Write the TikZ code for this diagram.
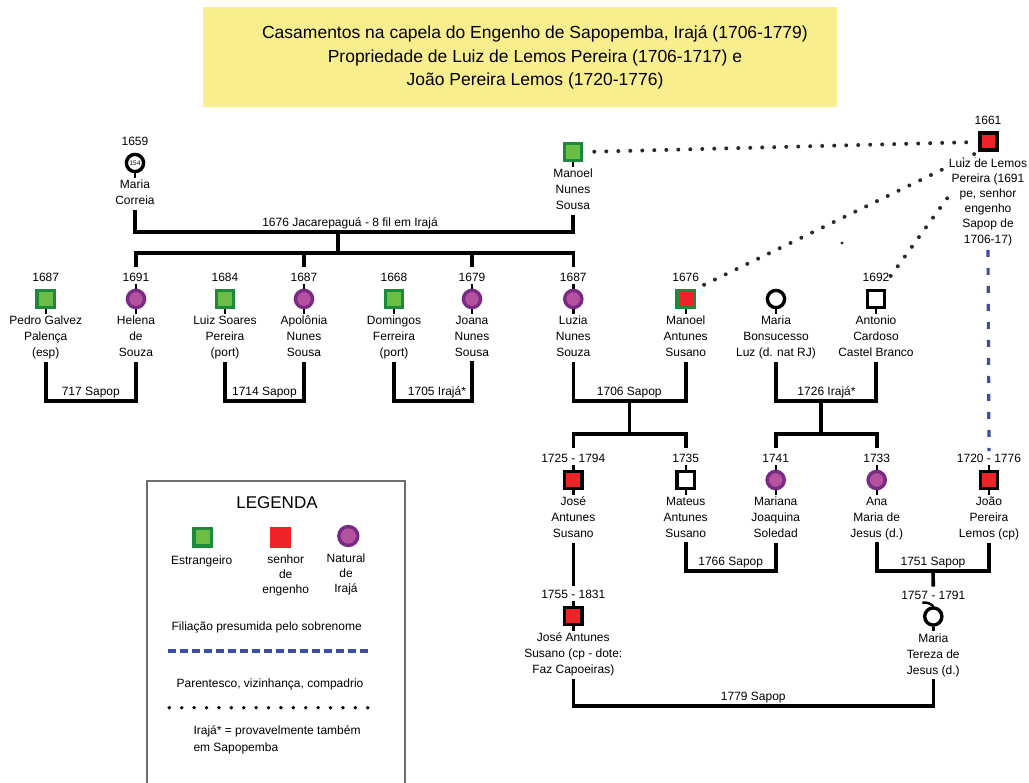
\documentclass[tikz,border=0pt]{standalone}
\usepackage{fontspec}
\setmainfont{Liberation Sans}
\usetikzlibrary{backgrounds}

\definecolor{estrF}{HTML}{6BBD45}
\definecolor{estrB}{HTML}{1B8A3B}
\definecolor{senF}{HTML}{EE2328}
\definecolor{purF}{HTML}{B5529F}
\definecolor{purB}{HTML}{782A85}
\definecolor{titleY}{HTML}{F9EE8D}
\definecolor{filB}{HTML}{3D4DA6}
\definecolor{dotG}{HTML}{2A2A2A}
\definecolor{frameG}{HTML}{6F6F6F}

\newcommand\txtA{\fontsize{12}{16}\selectfont}

% person: symbol node #1 at #2 with style #3, inner text #4, name lines #5
\newcommand\famnode[5]{%
  \node[#3] (#1) at (#2) {#4};
  \node[nm] (#1-n) at ([yshift=-16.8pt]#1.center) {#5\rule[-5pt]{0pt}{5pt}};
}
% year (or life span) printed above a symbol
\newcommand\famyear[2]{%
  \node[yr] (#1-y) at ([yshift=17.3pt]#1.center) {#2};
}

\begin{document}
\begin{tikzpicture}[x=1pt,y=-1pt,
  sym/.style={draw, line width=3.4pt, inner sep=0pt, minimum size=17.2pt},
  sq/.style={sym, rectangle},
  ci/.style={sym, circle},
  estr/.style={sq, draw=estrB, fill=estrF},
  senhor/.style={sq, draw=black, fill=senF},
  estrsen/.style={sq, draw=estrB, fill=senF},
  irj/.style={ci, draw=purB, fill=purF},
  homem/.style={sq, draw=black, fill=white},
  mulher/.style={ci, draw=black, fill=white},
  yr/.style={font=\txtA, anchor=base, inner sep=0pt},
  nm/.style={font=\txtA, align=center, anchor=north, inner sep=0pt},
  lbl/.style={font=\txtA, anchor=base, inner sep=0pt},
  bond/.style={line width=3.6pt, line cap=butt, line join=miter},
  stub/.style={line width=2.4pt},
  relation/.style={dotG, line width=4pt, line cap=round, dash pattern=on 0pt off 12pt},
  filiacao/.style={filB, line width=3.2pt, dash pattern=on 7pt off 11pt},
]
\useasboundingbox (0,0) rectangle (1029,783);
\clip (0,0) rectangle (1029,783);

% ---------- title ----------
\node[fill=titleY, minimum width=634pt, minimum height=100pt, inner sep=0pt,
      anchor=north west] (titlebox) at (203,7) {};
\node[font=\fontsize{17.5}{23.5}\selectfont, align=center, anchor=north, inner sep=0pt]
  (title) at (535,25.5)
  {Casamentos na capela do Engenho de Sapopemba, Irajá (1706-1779)\\
   Propriedade de Luiz de Lemos Pereira (1706-1717) e\\
   João Pereira Lemos (1720-1776)};

% ---------- first generation ----------
\famnode{mc}{135,163}{mulher, font=\fontsize{6.5}{7}\selectfont}{154}{Maria\\Correia}
\famyear{mc}{1659}
\famnode{mn}{573,152}{estr}{}{Manoel\\Nunes\\Sousa}
\node[senhor, line width=4pt, minimum size=17pt] (luiz) at (988,142) {};
\famyear{luiz}{1661}
\node[nm, font=\fontsize{12}{15.2}\selectfont, fill=white] (luiz-n) at (988,158.3)
  {Luiz de Lemos\\Pereira (1691\\pe, senhor\\engenho\\Sapop de\\1706-17)};

% ---------- second generation ----------
\famnode{pedro}{45.7,299}{estr}{}{Pedro Galvez\\Palença\\(esp)}
\famyear{pedro}{1687}
\famnode{helena}{136,299}{irj}{}{Helena\\de\\Souza}
\famyear{helena}{1691}
\famnode{luizs}{225,299}{estr}{}{Luiz Soares\\Pereira\\(port)}
\famyear{luizs}{1684}
\famnode{apol}{304,299}{irj}{}{Apolônia\\Nunes\\Sousa}
\famyear{apol}{1687}
\famnode{dom}{394,299}{estr}{}{Domingos\\Ferreira\\(port)}
\famyear{dom}{1668}
\famnode{joana}{472,299}{irj}{}{Joana\\Nunes\\Sousa}
\famyear{joana}{1679}
\famnode{luzia}{573.3,299}{irj}{}{Luzia\\Nunes\\Souza}
\famyear{luzia}{1687}
\famnode{mant}{685.7,299}{estrsen}{}{Manoel\\Antunes\\Susano}
\famyear{mant}{1676}
\famnode{mbon}{776,299}{mulher}{}{Maria\\Bonsucesso\\Luz (d. nat RJ)}
\famnode{anton}{876,299}{homem}{}{Antonio\\Cardoso\\Castel Branco}
\famyear{anton}{1692}

% ---------- third generation ----------
\famnode{jose}{573.3,480}{senhor}{}{José\\Antunes\\Susano}
\famyear{jose}{1725 - 1794}
\famnode{mateus}{685.7,480}{homem}{}{Mateus\\Antunes\\Susano}
\famyear{mateus}{1735}
\famnode{mariana}{775.7,480}{irj}{}{Mariana\\Joaquina\\Soledad}
\famyear{mariana}{1741}
\famnode{ana}{876.7,480}{irj}{}{Ana\\Maria de\\Jesus (d.)}
\famyear{ana}{1733}
\famnode{joao}{989,480}{senhor}{}{João\\Pereira\\Lemos (cp)}
\famyear{joao}{1720 - 1776}

% ---------- fourth generation ----------
\famnode{jose2}{573.3,616}{senhor}{}{José Antunes\\Susano (cp - dote:\\Faz Capoeiras)}
\famyear{jose2}{1755 - 1831}
\famnode{mtereza}{933.3,616.5}{mulher}{}{Maria\\Tereza de\\Jesus (d.)}
\famyear{mtereza}{1757 - 1791}

% small stubs on the symbols
\foreach \p in {mc,mn,pedro,helena,luizs,apol,dom,joana,luzia,mant,mbon,anton,
                jose,mateus,mariana,ana,joao,jose2,mtereza}
  \draw[stub] (\p.south) -- ++(0,4.5);
\foreach \p in {helena,apol,joana,luzia,jose,mateus,mariana,ana,joao,jose2}
  \draw[stub] (\p.north) -- ++(0,-4.5);
\draw[stub] ([xshift=-11pt,yshift=3.5pt]mtereza.north) to[bend left=25] (mtereza.north);

% ---------- marriages and descent ----------
\coordinate (j1676) at (337.7,232);
\coordinate (k1676) at (337.7,253.3);
\draw[bond] (mc-n.south) |- (j1676) -| (mn-n.south);
\node[lbl] (l1676) at (350,226.5) {1676 Jacarepaguá - 8 fil em Irajá};
\draw[bond] (j1676) -- (k1676);
\draw[bond] ([yshift=6pt]helena-y.north) |- (k1676) -| ([yshift=6pt]luzia-y.north);
\draw[bond] ([yshift=6pt]apol-y.north) -- (apol-y.north |- k1676);
\draw[bond] ([yshift=6pt]joana-y.north) -- (joana-y.north |- k1676);

\coordinate (c717) at (90.8,401);
\draw[bond] (pedro-n.south) |- (c717) -| (helena-n.south);
\node[lbl] (l717) at ([yshift=5.5pt]c717) {717 Sapop};

\coordinate (c1714) at (264.5,401);
\draw[bond] (luizs-n.south) |- (c1714) -| (apol-n.south);
\node[lbl] (l1714) at ([yshift=5.5pt]c1714) {1714 Sapop};

\coordinate (c1705) at (434,401);
\draw[bond] (dom-n.south) |- (c1705) -| (joana-n.south);
\node[lbl] (l1705) at ([xshift=3pt,yshift=5.5pt]c1705) {1705 Irajá*};

\coordinate (j1706) at (629.3,401);
\coordinate (k1706) at (629.3,434);
\draw[bond] (luzia-n.south) |- (j1706) -| (mant-n.south);
\node[lbl] (l1706) at ([yshift=5.5pt]j1706) {1706 Sapop};
\draw[bond] (j1706) -- (k1706);
\draw[bond] ([yshift=6pt]jose-y.north) |- (k1706) -| ([yshift=6pt]mateus-y.north);

\coordinate (j1726) at (820.7,401);
\coordinate (k1726) at (820.7,434);
\draw[bond] (mbon-n.south) |- (j1726) -| (anton-n.south);
\node[lbl] (l1726) at (826.5,395.5) {1726 Irajá*};
\draw[bond] (j1726) -- (k1726);
\draw[bond] ([yshift=6pt]mariana-y.north) |- (k1726) -| ([yshift=6pt]ana-y.north);

\coordinate (c1766) at (730.7,571);
\draw[bond] (mateus-n.south) |- (c1766) -| (mariana-n.south);
\node[lbl] (l1766) at ([yshift=5.5pt]c1766) {1766 Sapop};

\coordinate (j1751) at (933,571);
\draw[bond] (ana-n.south) |- (j1751) -| (joao-n.south);
\node[lbl] (l1751) at ([yshift=5.5pt]j1751) {1751 Sapop};
\draw[bond] (j1751) -- ([yshift=4pt]mtereza-y.north);

\draw[bond] (jose-n.south) -- ([yshift=4pt]jose2-y.north);

\coordinate (c1779) at (753.3,706);
\draw[bond] (jose2-n.south) |- (c1779) -| (mtereza-n.south);
\node[lbl] (l1779) at ([yshift=6pt]c1779) {1779 Sapop};

% ---------- kinship, neighbourhood and presumed filiation ----------
\begin{scope}[on background layer]
  \draw[relation, shorten <=11pt, shorten >=2pt] (mn.east) -- (luiz.west);
  \draw[relation, shorten <=9pt, shorten >=3pt] (mant.north east) -- (luiz.south west);
  \draw[relation, shorten <=2pt] (anton-y.east) -- (luiz);
  \draw[filiacao] ([yshift=-4pt]luiz-n.south) -- ([yshift=3pt]joao-y.north);
\end{scope}
\fill[dotG] (842,243) circle[radius=1.6pt];

% ---------- legend ----------
\draw[frameG, line width=2pt] (405,800) -- (405,481) -- (147,481) -- (147,800);
\node[lbl, font=\fontsize{17}{20}\selectfont] (lg-head) at (277,509) {LEGENDA};
\node[estr] (lg-estr) at (202.7,537.3) {};
\node[fill=senF, minimum size=21pt, inner sep=0pt] (lg-sen) at (280.5,537.3) {};
\node[irj, minimum size=19pt] (lg-nat) at (348.3,536) {};
\node[lbl] (lg-estr-t) at (201.7,564.3) {Estrangeiro};
\node[nm, font=\fontsize{12}{15}\selectfont] (lg-sen-t) at (285.7,554.6) {senhor\\de\\engenho};
\node[nm, font=\fontsize{12}{15}\selectfont] (lg-nat-t) at (346,553.6) {Natural\\de\\Irajá};
\node[lbl] (lg-fil) at (266.7,630) {Filiação presumida pelo sobrenome};
\draw[filB, line width=3.2pt, dash pattern=on 8pt off 4pt] (168.3,651) -- (368,651);
\node[lbl] (lg-par) at (270,687.3) {Parentesco, vizinhança, compadrio};
\draw[black, line width=3.8pt, line cap=round, dash pattern=on 0pt off 12.4pt]
  (169.3,707.7) -- (368.2,707.7);
\node[font=\fontsize{12}{16.7}\selectfont, align=left, anchor=north west, inner sep=0pt]
  (lg-ira) at (193.3,725.6) {Irajá* = provavelmente também\\em Sapopemba};
\end{tikzpicture}
\end{document}
